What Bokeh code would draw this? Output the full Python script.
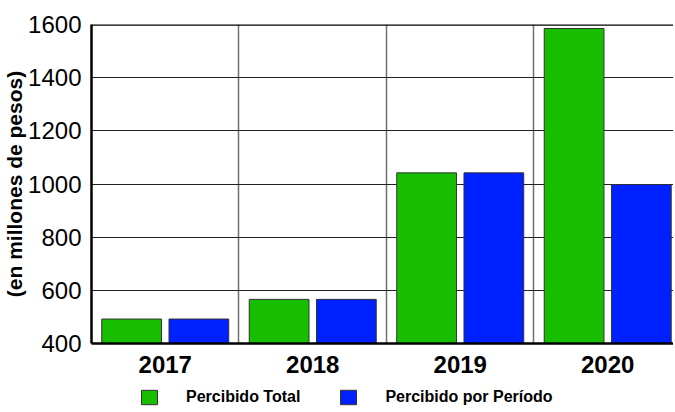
from bokeh.plotting import figure
from bokeh.models import (ColumnDataSource, FixedTicker, Legend, LegendItem, Span, Range1d)
from bokeh.layouts import column
from bokeh.embed import file_html
from bokeh.resources import INLINE

years = ["2017", "2018", "2019", "2020"]
percibido_total = [492, 566, 1042, 1585]
percibido_periodo = [492, 566, 1042, 998]
y_ticks = [400, 600, 800, 1000, 1200, 1400, 1600]

FONT = "Liberation Sans"
GREEN = "#17be00"
BLUE = "#0021ff"
EDGE = "#333333"
idx = list(range(len(years)))
off = 0.228
bw = 0.405

src_t = ColumnDataSource(dict(x=[i + 0.5 - off for i in idx], top=percibido_total))
src_p = ColumnDataSource(dict(x=[i + 0.5 + off for i in idx], top=percibido_periodo))

p = figure(frame_width=582, frame_height=319, output_backend="svg", toolbar_location=None,
           x_range=Range1d(0, 3.946), y_range=Range1d(400, 1600),
           min_border_left=85, min_border_right=0, min_border_top=24, min_border_bottom=0)
p.outline_line_color = None

r1 = p.vbar(x="x", top="top", bottom=400, width=bw, source=src_t,
            fill_color=GREEN, line_color=EDGE, line_width=1)
r2 = p.vbar(x="x", top="top", bottom=400, width=bw, source=src_p,
            fill_color=BLUE, line_color=EDGE, line_width=1)

# axes
p.yaxis.ticker = FixedTicker(ticks=y_ticks)
p.yaxis.axis_label = "(en millones de pesos)"
p.yaxis.axis_label_text_font = FONT
p.yaxis.axis_label_text_font_style = "bold"
p.yaxis.axis_label_text_font_size = "21px"
p.yaxis.axis_label_text_color = "black"
p.yaxis.axis_label_standoff = -1
p.yaxis.major_label_text_font = FONT
p.yaxis.major_label_text_font_size = "24px"
p.yaxis.major_label_text_color = "black"
p.yaxis.major_label_standoff = 10
p.yaxis.major_tick_out = 0
p.yaxis.major_tick_in = 0
p.yaxis.minor_tick_out = 0
p.yaxis.minor_tick_in = 0
p.yaxis.axis_line_width = 2.5
p.yaxis.axis_line_color = "black"

p.xaxis.ticker = FixedTicker(ticks=[i + 0.5 for i in idx])
p.xaxis.major_label_overrides = {i + 0.5: y for i, y in zip(idx, years)}
p.xaxis.major_label_text_font = FONT
p.xaxis.major_label_text_font_style = "bold"
p.xaxis.major_label_text_font_size = "24px"
p.xaxis.major_label_text_color = "black"
p.xaxis.major_label_standoff = 12
p.xaxis.major_tick_out = 0
p.xaxis.major_tick_in = 0
p.xaxis.minor_tick_out = 0
p.xaxis.minor_tick_in = 0
p.xaxis.axis_line_width = 2.5
p.xaxis.axis_line_color = "black"

p.ygrid.grid_line_color = "#222222"
p.ygrid.grid_line_width = 1
p.xgrid.ticker = FixedTicker(ticks=[1, 2, 3])
p.xgrid.grid_line_color = "#707070"
p.xgrid.grid_line_width = 1.5

p.add_layout(Span(location=1600, dimension="width", line_color="black", line_width=2.5))

# legend strip below the chart (column layout aligns its frame with the chart frame)
leg = figure(width=667, height=31, output_backend="svg", toolbar_location=None,
             x_range=Range1d(0, 1), y_range=Range1d(0, 1),
             x_axis_type=None, y_axis_type=None,
             min_border_left=0, min_border_right=0, min_border_top=0, min_border_bottom=0)
leg.title.visible = False
leg.outline_line_color = None
leg.xgrid.visible = False
leg.ygrid.visible = False
lr1 = leg.vbar(x=[-5], top=[-5], width=0.1, fill_color=GREEN, line_color=EDGE, line_width=1)
lr2 = leg.vbar(x=[-5], top=[-5], width=0.1, fill_color=BLUE, line_color=EDGE, line_width=1)

legend = Legend(items=[LegendItem(label="Percibido Total", renderers=[lr1]),
                       LegendItem(label="Percibido por Período", renderers=[lr2])],
                orientation="horizontal", location=(48, 0),
                glyph_width=20, glyph_height=18, label_standoff=27, spacing=38,
                padding=0, margin=0, border_line_color=None, background_fill_alpha=0,
                label_text_font=FONT, label_text_font_style="bold", label_text_font_size="16px",
                label_text_color="black", label_height=18)
leg.add_layout(legend, "center")

layout = column(p, leg, spacing=0)
open("out.html", "w").write(file_html(layout, INLINE))
